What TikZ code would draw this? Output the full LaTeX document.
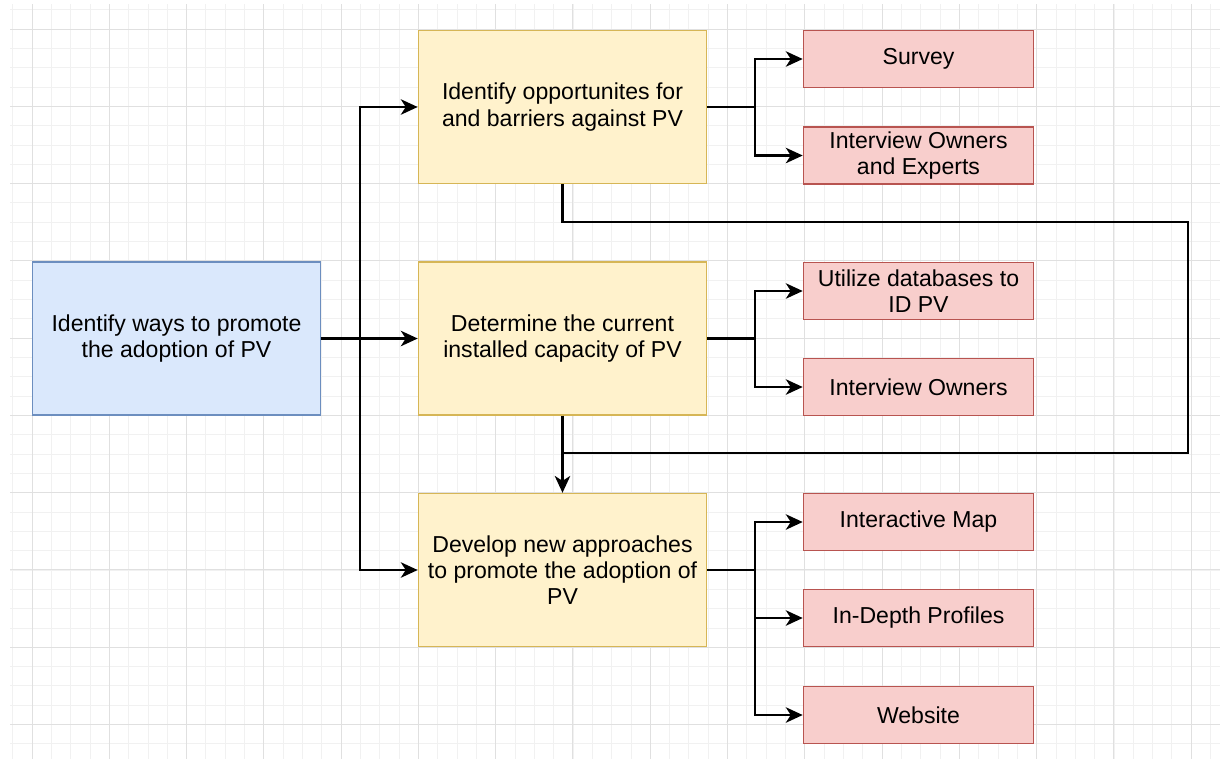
\documentclass[tikz,border=0pt]{standalone}
\usepackage{fontspec}
\setmainfont{Liberation Sans}
\usetikzlibrary{arrows.meta}
\definecolor{gridminor}{HTML}{F1F1F1}
\definecolor{gridmajor}{HTML}{E0E0E0}
\definecolor{bluefill}{HTML}{DAE8FC}
\definecolor{bluedraw}{HTML}{6C8EBF}
\definecolor{yellowfill}{HTML}{FFF2CC}
\definecolor{yellowdraw}{HTML}{D6B656}
\definecolor{redfill}{HTML}{F8CECC}
\definecolor{reddraw}{HTML}{B85450}
\tikzset{
  bigbox/.style={draw, line width=1.1pt, minimum width=7.2cm, minimum height=3.82cm,
    inner sep=0pt, align=center, font=\fontsize{16.4}{18.6}\selectfont},
  goalbox/.style={bigbox, fill=bluefill, draw=bluedraw},
  taskbox/.style={bigbox, fill=yellowfill, draw=yellowdraw},
  methodbox/.style={draw=reddraw, fill=redfill, line width=1.1pt, minimum width=5.75cm,
    minimum height=1.43cm, inner sep=0pt, align=center, font=\fontsize{16.4}{18.6}\selectfont},
  link/.style={line width=1.5pt, black},
  arr/.style={link, -{Stealth[length=12pt, width=11pt, inset=3.5pt]}}
}
\begin{document}
\begin{tikzpicture}[x=0.025cm, y=-0.025cm]
        \useasboundingbox (0,0) rectangle (1220,759);
        \fill[white] (0,0) rectangle (1220,759);
        % grid
        \foreach \k in {-1,...,61}
          \draw[gridminor, line width=0.6pt] (32+19.32*\k,4) -- (32+19.32*\k,759);
        \foreach \k in {-1,...,37}
          \draw[gridminor, line width=0.6pt] (10,29+19.32*\k) -- (1220,29+19.32*\k);
        \foreach \k in {0,...,15}
          \draw[gridmajor, line width=0.7pt] (32+77.28*\k,4) -- (32+77.28*\k,759);
        \foreach \k in {0,...,9}
          \draw[gridmajor, line width=0.7pt] (10,29+77.28*\k) -- (1220,29+77.28*\k);
        % boxes
        \node[goalbox] (ways) at (176.5,338.5) {Identify ways to promote\\the adoption of PV};
        \node[taskbox] (opp) at (562.5,107) {Identify opportunites for\\and barriers against PV};
        \node[taskbox] (cap) at (562.5,338.5) {Determine the current\\installed capacity of PV};
        \node[taskbox] (dev) at (562.5,570) {Develop new approaches\\to promote the adoption of\\PV};
        \node[methodbox] (survey) at (918.5,59) {Survey};
        \node[methodbox] (intexp) at (918.5,155.5) {Interview Owners\\and Experts};
        \node[methodbox] (utilize) at (918.5,291) {Utilize databases to\\ID PV};
        \node[methodbox] (intown) at (918.5,387) {Interview Owners};
        \node[methodbox] (map) at (918.5,522) {Interactive Map};
        \node[methodbox] (profiles) at (918.5,618) {In-Depth Profiles};
        \node[methodbox] (web) at (918.5,715) {Website};
        % left fork
        \coordinate (split) at (360,338.5);
        \draw[arr] (ways.east) -- (cap.west);
        \draw[arr] (split) |- (opp.west);
        \draw[arr] (split) |- (dev.west);
        % right forks
        \coordinate (forkA) at (755,107);
        \coordinate (forkB) at (755,338.5);
        \coordinate (forkC) at (755,570);
        \draw[link] (opp.east) -- (forkA);
        \draw[arr] (forkA) |- (survey.west);
        \draw[arr] (forkA) |- (intexp.west);
        \draw[link] (cap.east) -- (forkB);
        \draw[arr] (forkB) |- (utilize.west);
        \draw[arr] (forkB) |- (intown.west);
        \draw[link] (dev.east) -- (forkC);
        \draw[arr] (forkC) |- (map.west);
        \draw[arr] (forkC) |- (profiles.west);
        \draw[arr] (forkC) |- (web.west);
        % feedback loop
        \coordinate (loopR) at (1188,222);
        \coordinate (join) at (562.5,453);
        \draw[link] (opp.south) |- (loopR) |- (join);
        \draw[arr] (cap.south) -- (dev.north);
\end{tikzpicture}
\end{document}
